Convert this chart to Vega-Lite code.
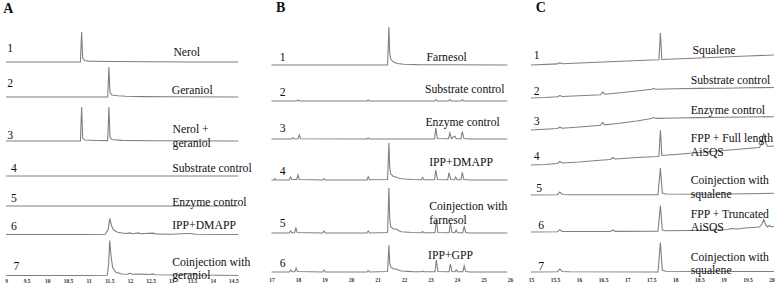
{
"$schema":"https://vega.github.io/schema/vega-lite/v6.json",
"padding":{"left":3,"top":0,"right":0,"bottom":0},
"spacing":14.5,
"config":{"view":{"stroke":null},"concat":{"spacing":0},
"axis":{"domain":false,"ticks":false,"grid":false,"labelFont":"Liberation Serif","labelFontSize":5.5,"labelFontWeight":"bold","labelColor":"#333","labelPadding":5,"labelOverlap":false,"labelBound":false,"labelFlush":false,"tickCount":40},
"line":{"color":"#808080","strokeWidth":1.1},
"text":{"font":"Liberation Serif","fontSize":11.7,"color":"#111","baseline":"middle","lineBreak":"\n","lineHeight":13.5}},
"datasets":{
"A":[
{"s":1,"t":9,"v":0},{"s":1,"t":10,"v":0},{"s":1,"t":10.8,"v":0},{"s":1,"t":10.83,"v":30},{"s":1,"t":10.855,"v":4},{"s":1,"t":10.9,"v":1.5},{"s":1,"t":11,"v":0.9},{"s":1,"t":11.5,"v":0.5},{"s":1,"t":12.5,"v":0.2},{"s":1,"t":13.5,"v":0},{"s":1,"t":14.62,"v":0},
{"s":2,"t":9,"v":0},{"s":2,"t":11,"v":0},{"s":2,"t":11.46,"v":0},{"s":2,"t":11.49,"v":30},{"s":2,"t":11.515,"v":5},{"s":2,"t":11.56,"v":2},{"s":2,"t":11.7,"v":1.2},{"s":2,"t":11.9,"v":0.8},{"s":2,"t":12.3,"v":0.4},{"s":2,"t":13,"v":0.2},{"s":2,"t":14.62,"v":0},
{"s":3,"t":9,"v":0},{"s":3,"t":10.8,"v":0},{"s":3,"t":10.83,"v":34},{"s":3,"t":10.855,"v":3},{"s":3,"t":10.9,"v":1},{"s":3,"t":11.2,"v":0.5},{"s":3,"t":11.46,"v":0.4},{"s":3,"t":11.49,"v":34},{"s":3,"t":11.515,"v":4},{"s":3,"t":11.56,"v":1.5},{"s":3,"t":11.8,"v":0.6},{"s":3,"t":12.5,"v":0.2},{"s":3,"t":14.62,"v":0},
{"s":4,"t":9,"v":0},{"s":4,"t":12,"v":0},{"s":4,"t":14.62,"v":0},
{"s":5,"t":9,"v":0},{"s":5,"t":12,"v":0},{"s":5,"t":14.62,"v":0},
{"s":6,"t":9,"v":0},{"s":6,"t":11,"v":0},{"s":6,"t":11.4,"v":0.3},{"s":6,"t":11.47,"v":5},{"s":6,"t":11.51,"v":16},{"s":6,"t":11.55,"v":9},{"s":6,"t":11.6,"v":4.5},{"s":6,"t":11.7,"v":2.3},{"s":6,"t":11.9,"v":1},{"s":6,"t":12,"v":1.6},{"s":6,"t":12.06,"v":0.8},{"s":6,"t":12.2,"v":1.6},{"s":6,"t":12.26,"v":0.8},{"s":6,"t":12.55,"v":1.4},{"s":6,"t":12.62,"v":0.6},{"s":6,"t":13,"v":0.3},{"s":6,"t":13.35,"v":1},{"s":6,"t":13.45,"v":1},{"s":6,"t":13.6,"v":0.3},{"s":6,"t":14.62,"v":0},
{"s":7,"t":9,"v":0},{"s":7,"t":11,"v":0},{"s":7,"t":11.45,"v":0.3},{"s":7,"t":11.48,"v":10},{"s":7,"t":11.51,"v":35},{"s":7,"t":11.54,"v":20},{"s":7,"t":11.58,"v":8},{"s":7,"t":11.65,"v":3.5},{"s":7,"t":11.8,"v":1.5},{"s":7,"t":11.95,"v":1.2},{"s":7,"t":12,"v":2.2},{"s":7,"t":12.06,"v":1.2},{"s":7,"t":12.2,"v":1.4},{"s":7,"t":12.5,"v":1},{"s":7,"t":12.55,"v":1.6},{"s":7,"t":12.62,"v":0.8},{"s":7,"t":13.2,"v":0.5},{"s":7,"t":13.35,"v":1.5},{"s":7,"t":13.5,"v":1.5},{"s":7,"t":13.6,"v":0.5},{"s":7,"t":14.62,"v":0}
],
"B":[
{"s":1,"t":17,"v":0},{"s":1,"t":21.38,"v":0},{"s":1,"t":21.43,"v":38},{"s":1,"t":21.46,"v":12},{"s":1,"t":21.5,"v":6},{"s":1,"t":21.6,"v":3},{"s":1,"t":21.75,"v":1.5},{"s":1,"t":22,"v":0.8},{"s":1,"t":22.5,"v":0.4},{"s":1,"t":23.5,"v":0.2},{"s":1,"t":25.9,"v":0},
{"s":2,"t":17,"v":0},{"s":2,"t":17.95,"v":0},{"s":2,"t":18,"v":1},{"s":2,"t":18.05,"v":0},{"s":2,"t":20.6,"v":0},{"s":2,"t":20.65,"v":1},{"s":2,"t":20.7,"v":0},{"s":2,"t":23.15,"v":0},{"s":2,"t":23.2,"v":1.5},{"s":2,"t":23.25,"v":0},{"s":2,"t":23.68,"v":0},{"s":2,"t":23.73,"v":1.5},{"s":2,"t":23.78,"v":0},{"s":2,"t":24.15,"v":0},{"s":2,"t":24.2,"v":1.5},{"s":2,"t":24.25,"v":0},{"s":2,"t":25.9,"v":0},
{"s":3,"t":17,"v":0},{"s":3,"t":17.75,"v":0},{"s":3,"t":17.8,"v":1.5},{"s":3,"t":17.85,"v":0},{"s":3,"t":18,"v":0.3},{"s":3,"t":18.05,"v":4},{"s":3,"t":18.1,"v":0.3},{"s":3,"t":20.6,"v":0},{"s":3,"t":20.65,"v":1},{"s":3,"t":20.7,"v":0},{"s":3,"t":23.15,"v":0},{"s":3,"t":23.2,"v":11},{"s":3,"t":23.26,"v":0.5},{"s":3,"t":23.68,"v":0.3},{"s":3,"t":23.73,"v":6},{"s":3,"t":23.79,"v":0.5},{"s":3,"t":23.92,"v":3},{"s":3,"t":23.97,"v":0.3},{"s":3,"t":24.15,"v":0.3},{"s":3,"t":24.2,"v":7.5},{"s":3,"t":24.26,"v":0.5},{"s":3,"t":24.5,"v":0},{"s":3,"t":25.9,"v":0},
{"s":4,"t":17,"v":0},{"s":4,"t":17.1,"v":0},{"s":4,"t":17.13,"v":1.5},{"s":4,"t":17.17,"v":0},{"s":4,"t":17.67,"v":0},{"s":4,"t":17.72,"v":3},{"s":4,"t":17.77,"v":0.5},{"s":4,"t":17.95,"v":0.5},{"s":4,"t":18,"v":5},{"s":4,"t":18.05,"v":0.5},{"s":4,"t":18.93,"v":0},{"s":4,"t":18.98,"v":1.5},{"s":4,"t":19.03,"v":0},{"s":4,"t":20.6,"v":0},{"s":4,"t":20.65,"v":3.3},{"s":4,"t":20.7,"v":0.3},{"s":4,"t":21.38,"v":0.5},{"s":4,"t":21.43,"v":37},{"s":4,"t":21.46,"v":13},{"s":4,"t":21.5,"v":6},{"s":4,"t":21.6,"v":3.5},{"s":4,"t":21.7,"v":3},{"s":4,"t":21.76,"v":2.2},{"s":4,"t":21.9,"v":1.2},{"s":4,"t":22.3,"v":0.5},{"s":4,"t":22.65,"v":0.3},{"s":4,"t":22.7,"v":2.5},{"s":4,"t":22.75,"v":0.3},{"s":4,"t":23.15,"v":0.3},{"s":4,"t":23.2,"v":10},{"s":4,"t":23.26,"v":0.5},{"s":4,"t":23.65,"v":0.3},{"s":4,"t":23.7,"v":7.3},{"s":4,"t":23.76,"v":0.5},{"s":4,"t":23.9,"v":0.3},{"s":4,"t":23.95,"v":3},{"s":4,"t":24,"v":0.3},{"s":4,"t":24.15,"v":0.3},{"s":4,"t":24.2,"v":7.7},{"s":4,"t":24.26,"v":0.5},{"s":4,"t":24.5,"v":0},{"s":4,"t":25.9,"v":0},
{"s":5,"t":17,"v":0},{"s":5,"t":17.67,"v":0},{"s":5,"t":17.72,"v":2},{"s":5,"t":17.77,"v":0.3},{"s":5,"t":17.87,"v":0.3},{"s":5,"t":17.92,"v":5},{"s":5,"t":17.97,"v":0.5},{"s":5,"t":18.93,"v":0},{"s":5,"t":18.98,"v":2},{"s":5,"t":19.03,"v":0},{"s":5,"t":20.6,"v":0},{"s":5,"t":20.65,"v":2},{"s":5,"t":20.7,"v":0},{"s":5,"t":21.38,"v":0.5},{"s":5,"t":21.43,"v":45},{"s":5,"t":21.46,"v":14},{"s":5,"t":21.5,"v":6},{"s":5,"t":21.6,"v":4},{"s":5,"t":21.72,"v":4},{"s":5,"t":21.78,"v":2.5},{"s":5,"t":21.9,"v":1.2},{"s":5,"t":22.3,"v":0.5},{"s":5,"t":22.65,"v":0.3},{"s":5,"t":22.7,"v":1.5},{"s":5,"t":22.75,"v":0.3},{"s":5,"t":23.17,"v":0.3},{"s":5,"t":23.22,"v":13},{"s":5,"t":23.28,"v":0.5},{"s":5,"t":23.7,"v":0.3},{"s":5,"t":23.75,"v":10},{"s":5,"t":23.81,"v":0.5},{"s":5,"t":23.92,"v":0.3},{"s":5,"t":23.97,"v":3},{"s":5,"t":24.02,"v":0.3},{"s":5,"t":24.22,"v":0.3},{"s":5,"t":24.27,"v":7},{"s":5,"t":24.33,"v":0.5},{"s":5,"t":24.5,"v":0},{"s":5,"t":25.9,"v":0},
{"s":6,"t":17,"v":0},{"s":6,"t":17.67,"v":0},{"s":6,"t":17.72,"v":2},{"s":6,"t":17.77,"v":0.3},{"s":6,"t":17.88,"v":0.3},{"s":6,"t":17.93,"v":4},{"s":6,"t":17.98,"v":0.5},{"s":6,"t":18.93,"v":0},{"s":6,"t":18.98,"v":2},{"s":6,"t":19.03,"v":0},{"s":6,"t":20.6,"v":0},{"s":6,"t":20.65,"v":1.5},{"s":6,"t":20.7,"v":0},{"s":6,"t":21.38,"v":0.5},{"s":6,"t":21.43,"v":27},{"s":6,"t":21.46,"v":9},{"s":6,"t":21.5,"v":5},{"s":6,"t":21.6,"v":3},{"s":6,"t":21.72,"v":3},{"s":6,"t":21.78,"v":2},{"s":6,"t":21.9,"v":1},{"s":6,"t":22.3,"v":0.4},{"s":6,"t":22.65,"v":0.3},{"s":6,"t":22.7,"v":1},{"s":6,"t":22.75,"v":0.3},{"s":6,"t":23.17,"v":0.3},{"s":6,"t":23.22,"v":12},{"s":6,"t":23.28,"v":0.5},{"s":6,"t":23.7,"v":0.3},{"s":6,"t":23.75,"v":8},{"s":6,"t":23.81,"v":0.5},{"s":6,"t":23.92,"v":0.3},{"s":6,"t":23.97,"v":2},{"s":6,"t":24.02,"v":0.3},{"s":6,"t":24.22,"v":0.3},{"s":6,"t":24.27,"v":6},{"s":6,"t":24.33,"v":0.5},{"s":6,"t":24.5,"v":0},{"s":6,"t":25.9,"v":0}
],
"C":[
{"s":1,"t":15,"v":0},{"s":1,"t":15.55,"v":1.1},{"s":1,"t":15.6,"v":2.3},{"s":1,"t":15.65,"v":1.3},{"s":1,"t":16.5,"v":3},{"s":1,"t":17.5,"v":5},{"s":1,"t":17.66,"v":5.3},{"s":1,"t":17.69,"v":32},{"s":1,"t":17.72,"v":5.5},{"s":1,"t":18.5,"v":7},{"s":1,"t":19.5,"v":9},{"s":1,"t":20.05,"v":10},
{"s":2,"t":15,"v":0},{"s":2,"t":15.3,"v":0.5},{"s":2,"t":15.55,"v":1.3},{"s":2,"t":15.6,"v":2.5},{"s":2,"t":15.65,"v":1.5},{"s":2,"t":16,"v":2.3},{"s":2,"t":16.45,"v":3.3},{"s":2,"t":16.49,"v":6},{"s":2,"t":16.53,"v":3.8},{"s":2,"t":16.8,"v":5},{"s":2,"t":17.2,"v":7},{"s":2,"t":17.5,"v":8.7},{"s":2,"t":17.55,"v":9.5},{"s":2,"t":17.6,"v":8.8},{"s":2,"t":18,"v":9.3},{"s":2,"t":18.5,"v":9.6},{"s":2,"t":19,"v":9.8},{"s":2,"t":19.5,"v":10.2},{"s":2,"t":20.05,"v":10.5},
{"s":3,"t":15,"v":0},{"s":3,"t":15.55,"v":1.5},{"s":3,"t":15.6,"v":2.8},{"s":3,"t":15.65,"v":1.8},{"s":3,"t":16,"v":3},{"s":3,"t":16.45,"v":4.8},{"s":3,"t":16.49,"v":7.5},{"s":3,"t":16.53,"v":5.2},{"s":3,"t":16.8,"v":6.5},{"s":3,"t":17.2,"v":9},{"s":3,"t":17.5,"v":11.5},{"s":3,"t":17.55,"v":12.5},{"s":3,"t":17.6,"v":11.6},{"s":3,"t":18,"v":12},{"s":3,"t":18.5,"v":12.4},{"s":3,"t":19,"v":12.7},{"s":3,"t":19.5,"v":13},{"s":3,"t":20.05,"v":13.3},
{"s":4,"t":15,"v":0},{"s":4,"t":15.3,"v":0.5},{"s":4,"t":15.55,"v":1.5},{"s":4,"t":15.6,"v":3.5},{"s":4,"t":15.65,"v":2},{"s":4,"t":16,"v":3},{"s":4,"t":16.5,"v":5},{"s":4,"t":16.65,"v":5.5},{"s":4,"t":16.7,"v":7.5},{"s":4,"t":16.75,"v":6},{"s":4,"t":17.2,"v":7.5},{"s":4,"t":17.62,"v":8.5},{"s":4,"t":17.66,"v":9},{"s":4,"t":17.69,"v":35},{"s":4,"t":17.72,"v":9.5},{"s":4,"t":18,"v":10.5},{"s":4,"t":18.5,"v":12.5},{"s":4,"t":19,"v":14.5},{"s":4,"t":19.5,"v":16.5},{"s":4,"t":19.75,"v":17.5},{"s":4,"t":19.8,"v":22},{"s":4,"t":19.84,"v":32},{"s":4,"t":19.88,"v":22},{"s":4,"t":19.92,"v":18.5},{"s":4,"t":20.05,"v":19},
{"s":5,"t":15,"v":0},{"s":5,"t":15.55,"v":0.3},{"s":5,"t":15.6,"v":3},{"s":5,"t":15.65,"v":0.5},{"s":5,"t":15.8,"v":0.2},{"s":5,"t":17.64,"v":0.3},{"s":5,"t":17.69,"v":27},{"s":5,"t":17.73,"v":2},{"s":5,"t":17.8,"v":1},{"s":5,"t":18.5,"v":0.8},{"s":5,"t":19.5,"v":1.2},{"s":5,"t":20.05,"v":1.7},
{"s":6,"t":15,"v":0},{"s":6,"t":15.55,"v":0.3},{"s":6,"t":15.6,"v":2.3},{"s":6,"t":15.65,"v":0.5},{"s":6,"t":16.65,"v":0.5},{"s":6,"t":16.7,"v":2},{"s":6,"t":16.75,"v":0.6},{"s":6,"t":17.64,"v":0.7},{"s":6,"t":17.69,"v":26.5},{"s":6,"t":17.73,"v":2},{"s":6,"t":17.8,"v":1.2},{"s":6,"t":18.3,"v":1.5},{"s":6,"t":18.78,"v":2},{"s":6,"t":18.81,"v":3},{"s":6,"t":18.85,"v":2},{"s":6,"t":19.1,"v":2.5},{"s":6,"t":19.16,"v":3.5},{"s":6,"t":19.3,"v":3},{"s":6,"t":19.45,"v":4},{"s":6,"t":19.6,"v":4.5},{"s":6,"t":19.75,"v":5},{"s":6,"t":19.8,"v":8},{"s":6,"t":19.84,"v":12.5},{"s":6,"t":19.88,"v":7},{"s":6,"t":19.92,"v":5},{"s":6,"t":19.96,"v":6.5},{"s":6,"t":20,"v":5},{"s":6,"t":20.05,"v":5.7},
{"s":7,"t":15,"v":0},{"s":7,"t":15.55,"v":0.3},{"s":7,"t":15.6,"v":3},{"s":7,"t":15.65,"v":0.5},{"s":7,"t":15.8,"v":0.2},{"s":7,"t":17.64,"v":0},{"s":7,"t":17.69,"v":29.5},{"s":7,"t":17.73,"v":2},{"s":7,"t":17.8,"v":0.8},{"s":7,"t":18.5,"v":0.5},{"s":7,"t":20.05,"v":0.5}
],
"lab":[
{"id":"A0","name":"A"},{"id":"B0","name":"B"},{"id":"C0","name":"C"},
{"id":"A1","num":"1","name":"Nerol"},{"id":"A2","num":"2","name":"Geraniol"},{"id":"A3","num":"3","name":"Nerol +\ngeraniol"},{"id":"A4","num":"4","name":"Substrate control"},{"id":"A5","num":"5","name":"Enzyme control"},{"id":"A6","num":"6","name":"IPP+DMAPP"},{"id":"A7","num":"7","name":"Coinjection with\ngeraniol"},
{"id":"B1","num":"1","name":"Farnesol"},{"id":"B2","num":"2","name":"Substrate control"},{"id":"B3","num":"3","name":"Enzyme control"},{"id":"B4","num":"4","name":"IPP+DMAPP"},{"id":"B5","num":"5","name":"Coinjection with\nfarnesol"},{"id":"B6","num":"6","name":"IPP+GPP"},
{"id":"C1","num":"1","name":"Squalene"},{"id":"C2","num":"2","name":"Substrate control"},{"id":"C3","num":"3","name":"Enzyme control"},{"id":"C4","num":"4","name":"FPP + Full length\nAiSQS"},{"id":"C5","num":"5","name":"Coinjection with\nsqualene"},{"id":"C6","num":"6","name":"FPP + Truncated\nAiSQS"},{"id":"C7","num":"7","name":"Coinjection with\nsqualene"}
]},
"hconcat":[
{"bounds":"flush","vconcat":[
{"width":248,"height":62,"layer":[
{"data":{"name":"A"},"transform":[{"filter":"datum.s==1"}],"mark":"line","encoding":{"x":{"field":"t","type":"quantitative","scale":{"domain":[9,15]},"axis":null},"y":{"field":"v","type":"quantitative","scale":{"domain":[0,62],"nice":false},"axis":null}}},
{"data":{"name":"lab"},"transform":[{"filter":"datum.id=='A0'"}],"mark":{"type":"text","align":"left","fontSize":14,"fontWeight":"bold"},"encoding":{"x":{"datum":8.935},"y":{"datum":52.7},"text":{"field":"name"}}},
{"data":{"name":"lab"},"transform":[{"filter":"datum.id=='A1'"}],"mark":{"type":"text","align":"left"},"encoding":{"x":{"datum":13.05},"y":{"datum":10.3},"text":{"field":"name"}}},
{"data":{"name":"lab"},"transform":[{"filter":"datum.id=='A1'"}],"mark":{"type":"text","align":"center"},"encoding":{"x":{"datum":9.1},"y":{"datum":13.7},"text":{"field":"num"}}}]},
{"width":248,"height":35,"layer":[
{"data":{"name":"A"},"transform":[{"filter":"datum.s==2"}],"mark":"line","encoding":{"x":{"field":"t","type":"quantitative","scale":{"domain":[9,15]},"axis":null},"y":{"field":"v","type":"quantitative","scale":{"domain":[0,35],"nice":false},"axis":null}}},
{"data":{"name":"lab"},"transform":[{"filter":"datum.id=='A2'"}],"mark":{"type":"text","align":"left"},"encoding":{"x":{"datum":13.01},"y":{"datum":7},"text":{"field":"name"}}},
{"data":{"name":"lab"},"transform":[{"filter":"datum.id=='A2'"}],"mark":{"type":"text","align":"center"},"encoding":{"x":{"datum":9.1},"y":{"datum":13.7},"text":{"field":"num"}}}]},
{"width":248,"height":44,"layer":[
{"data":{"name":"A"},"transform":[{"filter":"datum.s==3"}],"mark":"line","encoding":{"x":{"field":"t","type":"quantitative","scale":{"domain":[9,15]},"axis":null},"y":{"field":"v","type":"quantitative","scale":{"domain":[0,44],"nice":false},"axis":null}}},
{"data":{"name":"lab"},"transform":[{"filter":"datum.id=='A3'"}],"mark":{"type":"text","align":"left"},"encoding":{"x":{"datum":13.03},"y":{"datum":11.7},"text":{"field":"name"}}},
{"data":{"name":"lab"},"transform":[{"filter":"datum.id=='A3'"}],"mark":{"type":"text","align":"center"},"encoding":{"x":{"datum":9.1},"y":{"datum":6},"text":{"field":"num"}}}]},
{"width":248,"height":35,"layer":[
{"data":{"name":"A"},"transform":[{"filter":"datum.s==4"}],"mark":"line","encoding":{"x":{"field":"t","type":"quantitative","scale":{"domain":[9,15]},"axis":null},"y":{"field":"v","type":"quantitative","scale":{"domain":[0,35],"nice":false},"axis":null}}},
{"data":{"name":"lab"},"transform":[{"filter":"datum.id=='A4'"}],"mark":{"type":"text","align":"left"},"encoding":{"x":{"datum":13.02},"y":{"datum":8.5},"text":{"field":"name"}}},
{"data":{"name":"lab"},"transform":[{"filter":"datum.id=='A4'"}],"mark":{"type":"text","align":"center"},"encoding":{"x":{"datum":9.19},"y":{"datum":8.5},"text":{"field":"num"}}}]},
{"width":248,"height":30,"layer":[
{"data":{"name":"A"},"transform":[{"filter":"datum.s==5"}],"mark":"line","encoding":{"x":{"field":"t","type":"quantitative","scale":{"domain":[9,15]},"axis":null},"y":{"field":"v","type":"quantitative","scale":{"domain":[0,30],"nice":false},"axis":null}}},
{"data":{"name":"lab"},"transform":[{"filter":"datum.id=='A5'"}],"mark":{"type":"text","align":"left"},"encoding":{"x":{"datum":13.02},"y":{"datum":4},"text":{"field":"name"}}},
{"data":{"name":"lab"},"transform":[{"filter":"datum.id=='A5'"}],"mark":{"type":"text","align":"center"},"encoding":{"x":{"datum":9.19},"y":{"datum":7.7},"text":{"field":"num"}}}]},
{"width":248,"height":28.5,"layer":[
{"data":{"name":"A"},"transform":[{"filter":"datum.s==6"}],"mark":"line","encoding":{"x":{"field":"t","type":"quantitative","scale":{"domain":[9,15]},"axis":null},"y":{"field":"v","type":"quantitative","scale":{"domain":[0,28.5],"nice":false},"axis":null}}},
{"data":{"name":"lab"},"transform":[{"filter":"datum.id=='A6'"}],"mark":{"type":"text","align":"left"},"encoding":{"x":{"datum":13.02},"y":{"datum":9.8},"text":{"field":"name"}}},
{"data":{"name":"lab"},"transform":[{"filter":"datum.id=='A6'"}],"mark":{"type":"text","align":"center"},"encoding":{"x":{"datum":9.19},"y":{"datum":8.5},"text":{"field":"num"}}}]},
{"width":248,"height":40.5,"layer":[
{"data":{"name":"A"},"transform":[{"filter":"datum.s==7"}],"mark":"line","encoding":{"x":{"field":"t","type":"quantitative","scale":{"domain":[9,15]},"axis":{"values":[9,9.5,10,10.5,11,11.5,12,12.5,13,13.5,14,14.5],"format":"~g","title":null,"labelPadding":2.5,"labelOverlap":false,"tickCount":40}},"y":{"field":"v","type":"quantitative","scale":{"domain":[0,40.5],"nice":false},"axis":null}}},
{"data":{"name":"lab"},"transform":[{"filter":"datum.id=='A7'"}],"mark":{"type":"text","align":"left"},"encoding":{"x":{"datum":13.02},"y":{"datum":13.7},"text":{"field":"name"}}},
{"data":{"name":"lab"},"transform":[{"filter":"datum.id=='A7'"}],"mark":{"type":"text","align":"center"},"encoding":{"x":{"datum":9.25},"y":{"datum":10},"text":{"field":"num"}}}]}
]},
{"bounds":"flush","vconcat":[
{"width":238.5,"height":65,"layer":[
{"data":{"name":"B"},"transform":[{"filter":"datum.s==1"}],"mark":"line","encoding":{"x":{"field":"t","type":"quantitative","scale":{"domain":[17,26]},"axis":null},"y":{"field":"v","type":"quantitative","scale":{"domain":[0,65],"nice":false},"axis":null}}},
{"data":{"name":"lab"},"transform":[{"filter":"datum.id=='B0'"}],"mark":{"type":"text","align":"left","fontSize":14,"fontWeight":"bold"},"encoding":{"x":{"datum":17.17},"y":{"datum":56.7},"text":{"field":"name"}}},
{"data":{"name":"lab"},"transform":[{"filter":"datum.id=='B1'"}],"mark":{"type":"text","align":"left"},"encoding":{"x":{"datum":22.85},"y":{"datum":8},"text":{"field":"name"}}},
{"data":{"name":"lab"},"transform":[{"filter":"datum.id=='B1'"}],"mark":{"type":"text","align":"center"},"encoding":{"x":{"datum":17.42},"y":{"datum":8},"text":{"field":"num"}}}]},
{"width":238.5,"height":36,"layer":[
{"data":{"name":"B"},"transform":[{"filter":"datum.s==2"}],"mark":"line","encoding":{"x":{"field":"t","type":"quantitative","scale":{"domain":[17,26]},"axis":null},"y":{"field":"v","type":"quantitative","scale":{"domain":[0,36],"nice":false},"axis":null}}},
{"data":{"name":"lab"},"transform":[{"filter":"datum.id=='B2'"}],"mark":{"type":"text","align":"left"},"encoding":{"x":{"datum":22.79},"y":{"datum":12},"text":{"field":"name"}}},
{"data":{"name":"lab"},"transform":[{"filter":"datum.id=='B2'"}],"mark":{"type":"text","align":"center"},"encoding":{"x":{"datum":17.42},"y":{"datum":9},"text":{"field":"num"}}}]},
{"width":238.5,"height":38,"layer":[
{"data":{"name":"B"},"transform":[{"filter":"datum.s==3"}],"mark":"line","encoding":{"x":{"field":"t","type":"quantitative","scale":{"domain":[17,26]},"axis":null},"y":{"field":"v","type":"quantitative","scale":{"domain":[0,38],"nice":false},"axis":null}}},
{"data":{"name":"lab"},"transform":[{"filter":"datum.id=='B3'"}],"mark":{"type":"text","align":"left"},"encoding":{"x":{"datum":22.81},"y":{"datum":17.3},"text":{"field":"name"}}},
{"data":{"name":"lab"},"transform":[{"filter":"datum.id=='B3'"}],"mark":{"type":"text","align":"center"},"encoding":{"x":{"datum":17.42},"y":{"datum":11},"text":{"field":"num"}}}]},
{"width":238.5,"height":41,"layer":[
{"data":{"name":"B"},"transform":[{"filter":"datum.s==4"}],"mark":"line","encoding":{"x":{"field":"t","type":"quantitative","scale":{"domain":[17,26]},"axis":null},"y":{"field":"v","type":"quantitative","scale":{"domain":[0,41],"nice":false},"axis":null}}},
{"data":{"name":"lab"},"transform":[{"filter":"datum.id=='B4'"}],"mark":{"type":"text","align":"left"},"encoding":{"x":{"datum":22.95},"y":{"datum":18.3},"text":{"field":"name"}}},
{"data":{"name":"lab"},"transform":[{"filter":"datum.id=='B4'"}],"mark":{"type":"text","align":"center"},"encoding":{"x":{"datum":17.42},"y":{"datum":8.7},"text":{"field":"num"}}}]},
{"width":238.5,"height":53,"layer":[
{"data":{"name":"B"},"transform":[{"filter":"datum.s==5"}],"mark":"line","encoding":{"x":{"field":"t","type":"quantitative","scale":{"domain":[17,26]},"axis":null},"y":{"field":"v","type":"quantitative","scale":{"domain":[0,53],"nice":false},"axis":null}}},
{"data":{"name":"lab"},"transform":[{"filter":"datum.id=='B5'"}],"mark":{"type":"text","align":"left"},"encoding":{"x":{"datum":22.95},"y":{"datum":27},"text":{"field":"name"}}},
{"data":{"name":"lab"},"transform":[{"filter":"datum.id=='B5'"}],"mark":{"type":"text","align":"center"},"encoding":{"x":{"datum":17.42},"y":{"datum":10},"text":{"field":"num"}}}]},
{"width":238.5,"height":39,"layer":[
{"data":{"name":"B"},"transform":[{"filter":"datum.s==6"}],"mark":"line","encoding":{"x":{"field":"t","type":"quantitative","scale":{"domain":[17,26]},"axis":{"values":[17,18,19,20,21,22,23,24,25,26],"format":"~g","title":null,"labelOverlap":false,"tickCount":40}},"y":{"field":"v","type":"quantitative","scale":{"domain":[0,39],"nice":false},"axis":null}}},
{"data":{"name":"lab"},"transform":[{"filter":"datum.id=='B6'"}],"mark":{"type":"text","align":"left"},"encoding":{"x":{"datum":22.91},"y":{"datum":17.3},"text":{"field":"name"}}},
{"data":{"name":"lab"},"transform":[{"filter":"datum.id=='B6'"}],"mark":{"type":"text","align":"center"},"encoding":{"x":{"datum":17.42},"y":{"datum":9},"text":{"field":"num"}}}]}
]},
{"bounds":"flush","vconcat":[
{"width":240.5,"height":65,"layer":[
{"data":{"name":"C"},"transform":[{"filter":"datum.s==1"}],"mark":"line","encoding":{"x":{"field":"t","type":"quantitative","scale":{"domain":[15,20]},"axis":null},"y":{"field":"v","type":"quantitative","scale":{"domain":[0,65],"nice":false},"axis":null}}},
{"data":{"name":"lab"},"transform":[{"filter":"datum.id=='C0'"}],"mark":{"type":"text","align":"left","fontSize":14,"fontWeight":"bold"},"encoding":{"x":{"datum":15.1},"y":{"datum":56.7},"text":{"field":"name"}}},
{"data":{"name":"lab"},"transform":[{"filter":"datum.id=='C1'"}],"mark":{"type":"text","align":"left"},"encoding":{"x":{"datum":18.36},"y":{"datum":15},"text":{"field":"name"}}},
{"data":{"name":"lab"},"transform":[{"filter":"datum.id=='C1'"}],"mark":{"type":"text","align":"center"},"encoding":{"x":{"datum":15.12},"y":{"datum":10},"text":{"field":"num"}}}]},
{"width":240.5,"height":33,"layer":[
{"data":{"name":"C"},"transform":[{"filter":"datum.s==2"}],"mark":"line","encoding":{"x":{"field":"t","type":"quantitative","scale":{"domain":[15,20]},"axis":null},"y":{"field":"v","type":"quantitative","scale":{"domain":[0,33],"nice":false},"axis":null}}},
{"data":{"name":"lab"},"transform":[{"filter":"datum.id=='C2'"}],"mark":{"type":"text","align":"left"},"encoding":{"x":{"datum":18.32},"y":{"datum":18},"text":{"field":"name"}}},
{"data":{"name":"lab"},"transform":[{"filter":"datum.id=='C2'"}],"mark":{"type":"text","align":"center"},"encoding":{"x":{"datum":15.12},"y":{"datum":7.3},"text":{"field":"num"}}}]},
{"width":240.5,"height":32,"layer":[
{"data":{"name":"C"},"transform":[{"filter":"datum.s==3"}],"mark":"line","encoding":{"x":{"field":"t","type":"quantitative","scale":{"domain":[15,20]},"axis":null},"y":{"field":"v","type":"quantitative","scale":{"domain":[0,32],"nice":false},"axis":null}}},
{"data":{"name":"lab"},"transform":[{"filter":"datum.id=='C3'"}],"mark":{"type":"text","align":"left"},"encoding":{"x":{"datum":18.32},"y":{"datum":20},"text":{"field":"name"}}},
{"data":{"name":"lab"},"transform":[{"filter":"datum.id=='C3'"}],"mark":{"type":"text","align":"center"},"encoding":{"x":{"datum":15.12},"y":{"datum":9.3},"text":{"field":"num"}}}]},
{"width":240.5,"height":35,"layer":[
{"data":{"name":"C"},"transform":[{"filter":"datum.s==4"}],"mark":"line","encoding":{"x":{"field":"t","type":"quantitative","scale":{"domain":[15,20]},"axis":null},"y":{"field":"v","type":"quantitative","scale":{"domain":[0,35],"nice":false},"axis":null}}},
{"data":{"name":"lab"},"transform":[{"filter":"datum.id=='C4'"}],"mark":{"type":"text","align":"left"},"encoding":{"x":{"datum":18.32},"y":{"datum":27},"text":{"field":"name"}}},
{"data":{"name":"lab"},"transform":[{"filter":"datum.id=='C4'"}],"mark":{"type":"text","align":"center"},"encoding":{"x":{"datum":15.12},"y":{"datum":8.7},"text":{"field":"num"}}}]},
{"width":240.5,"height":30,"layer":[
{"data":{"name":"C"},"transform":[{"filter":"datum.s==5"}],"mark":"line","encoding":{"x":{"field":"t","type":"quantitative","scale":{"domain":[15,20]},"axis":null},"y":{"field":"v","type":"quantitative","scale":{"domain":[0,30],"nice":false},"axis":null}}},
{"data":{"name":"lab"},"transform":[{"filter":"datum.id=='C5'"}],"mark":{"type":"text","align":"left"},"encoding":{"x":{"datum":18.32},"y":{"datum":14.7},"text":{"field":"name"}}},
{"data":{"name":"lab"},"transform":[{"filter":"datum.id=='C5'"}],"mark":{"type":"text","align":"center"},"encoding":{"x":{"datum":15.17},"y":{"datum":7},"text":{"field":"num"}}}]},
{"width":240.5,"height":37,"layer":[
{"data":{"name":"C"},"transform":[{"filter":"datum.s==6"}],"mark":"line","encoding":{"x":{"field":"t","type":"quantitative","scale":{"domain":[15,20]},"axis":null},"y":{"field":"v","type":"quantitative","scale":{"domain":[0,37],"nice":false},"axis":null}}},
{"data":{"name":"lab"},"transform":[{"filter":"datum.id=='C6'"}],"mark":{"type":"text","align":"left"},"encoding":{"x":{"datum":18.32},"y":{"datum":18.2},"text":{"field":"name"}}},
{"data":{"name":"lab"},"transform":[{"filter":"datum.id=='C6'"}],"mark":{"type":"text","align":"center"},"encoding":{"x":{"datum":15.21},"y":{"datum":7.3},"text":{"field":"num"}}}]},
{"width":240.5,"height":40,"layer":[
{"data":{"name":"C"},"transform":[{"filter":"datum.s==7"}],"mark":"line","encoding":{"x":{"field":"t","type":"quantitative","scale":{"domain":[15,20]},"axis":{"values":[15,15.5,16,16.5,17,17.5,18,18.5,19,19.5,20],"format":"~g","title":null,"labelOverlap":false,"tickCount":40}},"y":{"field":"v","type":"quantitative","scale":{"domain":[0,40],"nice":false},"axis":null}}},
{"data":{"name":"lab"},"transform":[{"filter":"datum.id=='C7'"}],"mark":{"type":"text","align":"left"},"encoding":{"x":{"datum":18.32},"y":{"datum":15.3},"text":{"field":"name"}}},
{"data":{"name":"lab"},"transform":[{"filter":"datum.id=='C7'"}],"mark":{"type":"text","align":"center"},"encoding":{"x":{"datum":15.21},"y":{"datum":6.3},"text":{"field":"num"}}}]}
]}
]}
